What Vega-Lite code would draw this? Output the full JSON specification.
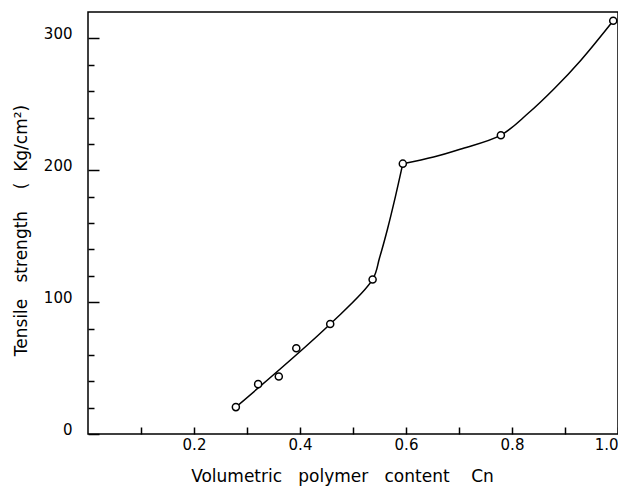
{
  "$schema": "https://vega.github.io/schema/vega-lite/v6.json",
  "width": 530,
  "height": 422,
  "autosize": {"type": "none"},
  "padding": {"left": 88, "top": 12, "right": 0, "bottom": 64},
  "background": "white",
  "config": {
    "view": {"stroke": "black", "strokeWidth": 1.5},
    "font": "DejaVu Sans"
  },
  "datasets": {
    "points": [
      {"cn": 0.279, "strength": 20.4},
      {"cn": 0.321, "strength": 37.8},
      {"cn": 0.360, "strength": 43.6},
      {"cn": 0.393, "strength": 65.0},
      {"cn": 0.457, "strength": 83.4},
      {"cn": 0.537, "strength": 117.2},
      {"cn": 0.594, "strength": 205.0},
      {"cn": 0.779, "strength": 226.6},
      {"cn": 0.991, "strength": 313.4}
    ],
    "curve": [
      {"seg": "a", "cn": 0.279, "strength": 20.4},
      {"seg": "a", "cn": 0.457, "strength": 83.4},
      {"seg": "a", "cn": 0.537, "strength": 117.2},
      {"seg": "a", "cn": 0.550, "strength": 133.5},
      {"seg": "a", "cn": 0.565, "strength": 155.3},
      {"seg": "a", "cn": 0.580, "strength": 180.0},
      {"seg": "a", "cn": 0.594, "strength": 205.0},
      {"seg": "b", "cn": 0.594, "strength": 205.0},
      {"seg": "b", "cn": 0.652, "strength": 210.0},
      {"seg": "b", "cn": 0.702, "strength": 215.9},
      {"seg": "b", "cn": 0.779, "strength": 226.6},
      {"seg": "b", "cn": 0.830, "strength": 243.0},
      {"seg": "b", "cn": 0.880, "strength": 262.0},
      {"seg": "b", "cn": 0.930, "strength": 283.5},
      {"seg": "b", "cn": 0.991, "strength": 313.4}
    ]
  },
  "encoding": {
    "x": {
      "field": "cn",
      "type": "quantitative",
      "scale": {"domain": [0, 1.0], "nice": false, "zero": false},
      "axis": {
        "values": [0.1, 0.2, 0.3, 0.4, 0.5, 0.6, 0.7, 0.8, 0.9, 1.0],
        "labelExpr": "round(datum.value*10) % 2 == 0 ? format(datum.value, '.1f') : ''",
        "labelFlush": true,
        "grid": false,
        "domain": false,
        "tickSize": -7,
        "tickWidth": 1.5,
        "tickColor": "black",
        "labelFontSize": 15,
        "labelColor": "black",
        "labelPadding": 10,
        "title": "Volumetric\u00a0\u00a0\u00a0polymer\u00a0\u00a0\u00a0content\u00a0\u00a0\u00a0\u00a0Cn",
        "titleFontSize": 17,
        "titleFontWeight": "normal",
        "titleColor": "black",
        "titleX": 254,
        "titlePadding": 16
      }
    },
    "y": {
      "field": "strength",
      "type": "quantitative",
      "scale": {"domain": [0, 320], "nice": false},
      "axis": {
        "values": [0, 20, 40, 60, 80, 100, 120, 140, 160, 180, 200, 220, 240, 260, 280, 300],
        "labelExpr": "datum.value % 100 == 0 ? datum.label : ''",
        "grid": false,
        "domain": false,
        "tickSize": {"condition": {"test": "datum.value % 100 == 0", "value": -11}, "value": -6},
        "tickWidth": 1.5,
        "tickColor": "black",
        "labelFontSize": 15,
        "labelColor": "black",
        "labelPadding": 27,
        "labelOffset": -5,
        "title": "Tensile\u00a0\u00a0\u00a0strength\u00a0\u00a0\u00a0\u00a0(\u00a0\u00a0Kg/cm²)",
        "titleFontSize": 17,
        "titleFontWeight": "normal",
        "titleColor": "black",
        "titleY": 218,
        "titlePadding": 13
      }
    }
  },
  "layer": [
    {
      "data": {"name": "curve"},
      "mark": {"type": "line", "interpolate": "catmull-rom", "color": "black", "strokeWidth": 1.5},
      "encoding": {"detail": {"field": "seg", "type": "nominal"}}
    },
    {
      "data": {"name": "points"},
      "mark": {"type": "point", "shape": "circle", "filled": false, "fill": "white", "fillOpacity": 1, "stroke": "black", "strokeWidth": 1.5, "size": 50, "opacity": 1}
    }
  ]
}
